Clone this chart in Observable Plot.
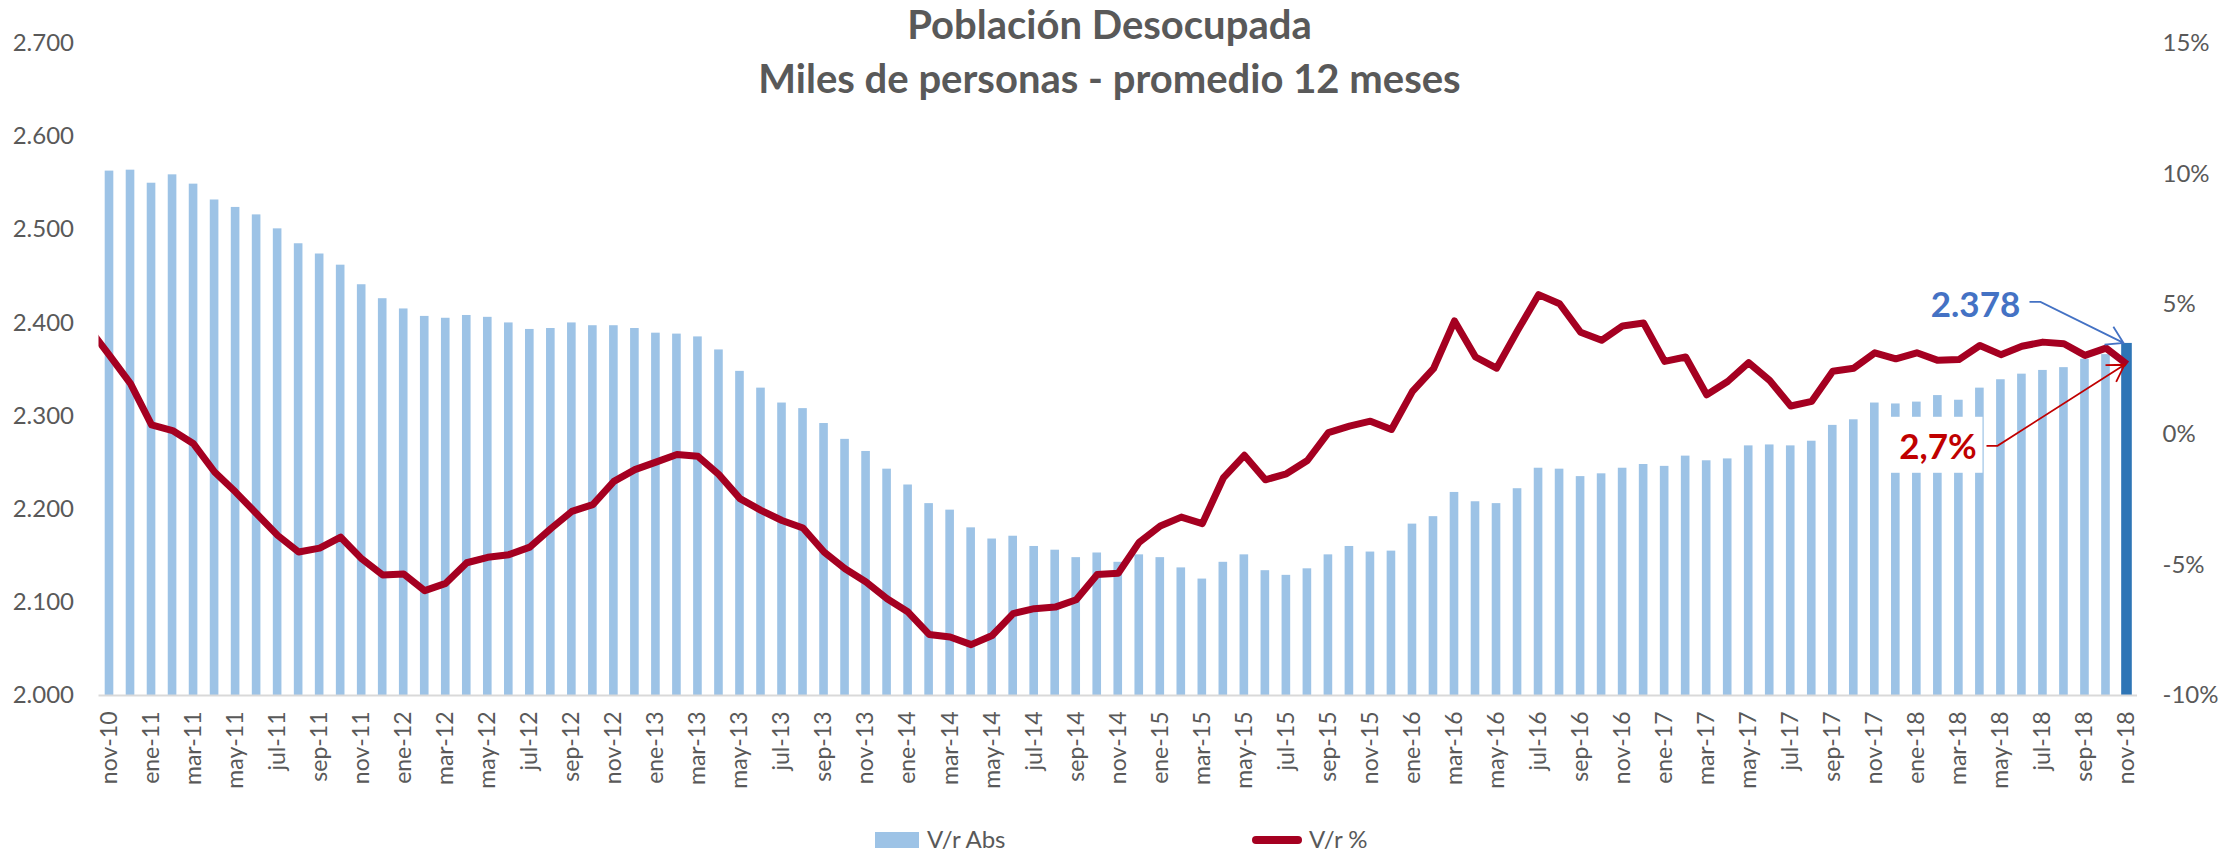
<!DOCTYPE html>
<html>
<head>
<meta charset="utf-8">
<script src="https://cdn.jsdelivr.net/npm/d3@7"></script>
<script src="https://cdn.jsdelivr.net/npm/@observablehq/plot@0.6"></script>
<style>
  body { margin: 0; background: #fff; }
  #wrap { position: relative; width: 2219px; height: 854px; background: #fff; font-family: Lato, "Open Sans", sans-serif; color: #595959; }
  #wrap svg { display: block; position: absolute; left: 0; top: 0; }
  .title { position: absolute; left: 0; width: 2219px; text-align: center; font-weight: 700; font-size: 40px; line-height: 54px; color: #595959; }
  .leg { position: absolute; font-size: 24px; line-height: 30px; color: #595959; }
</style>
</head>
<body>
<div id="wrap">
  <div class="title" style="top:-3px">Población Desocupada</div>
  <div class="title" style="top:51px">Miles de personas - promedio 12 meses</div>
</div>
<script>
// ---------- data ----------
const months = [
  "nov-10","dic-10",
  "ene-11","feb-11","mar-11","abr-11","may-11","jun-11","jul-11","ago-11","sep-11","oct-11","nov-11","dic-11",
  "ene-12","feb-12","mar-12","abr-12","may-12","jun-12","jul-12","ago-12","sep-12","oct-12","nov-12","dic-12",
  "ene-13","feb-13","mar-13","abr-13","may-13","jun-13","jul-13","ago-13","sep-13","oct-13","nov-13","dic-13",
  "ene-14","feb-14","mar-14","abr-14","may-14","jun-14","jul-14","ago-14","sep-14","oct-14","nov-14","dic-14",
  "ene-15","feb-15","mar-15","abr-15","may-15","jun-15","jul-15","ago-15","sep-15","oct-15","nov-15","dic-15",
  "ene-16","feb-16","mar-16","abr-16","may-16","jun-16","jul-16","ago-16","sep-16","oct-16","nov-16","dic-16",
  "ene-17","feb-17","mar-17","abr-17","may-17","jun-17","jul-17","ago-17","sep-17","oct-17","nov-17","dic-17",
  "ene-18","feb-18","mar-18","abr-18","may-18","jun-18","jul-18","ago-18","sep-18","oct-18","nov-18"
];
// V/r Abs: desocupados, miles de personas (promedio 12 meses)
const absValues = [
  2563,2564,2550,2559,2549,2532,2524,2516,2501,2485,2474,2462,2441,2426,2415,2407,2405,
  2408,2406,2400,2393,2394,2400,2397,2397,2394,2389,2388,2385,2371,2348,2330,2314,2308,2292,
  2275,2262,2243,2226,2206,2199,2180,2168,2171,2160,2156,2148,2153,2143,2151,2148,2137,
  2125,2143,2151,2134,2129,2136,2151,2160,2154,2155,2184,2192,2218,2208,2206,2222,2244,
  2243,2235,2238,2244,2248,2246,2257,2252,2254,2268,2269,2268,2273,2290,2296,2314,2313,
  2315,2322,2317,2330,2339,2345,2349,2352,2361,2366,2378
];
// V/r %: variación anual (%), same months
const pctValues = [
  3.04,1.96,0.38,0.16,-0.35,-1.43,-2.20,-3.03,-3.86,-4.50,-4.35,-3.93,-4.76,-5.38,-5.34,-5.98,-5.70,
  -4.91,-4.70,-4.60,-4.31,-3.60,-2.94,-2.68,-1.79,-1.34,-1.05,-0.76,-0.83,-1.53,-2.45,-2.90,-3.29,-3.58,-4.50,
  -5.14,-5.65,-6.29,-6.80,-7.66,-7.76,-8.05,-7.70,-6.86,-6.67,-6.61,-6.33,-5.36,-5.31,-4.12,-3.50,-3.16,
  -3.41,-1.66,-0.79,-1.73,-1.50,-0.99,0.08,0.33,0.52,0.20,1.66,2.53,4.36,2.98,2.55,3.99,5.37,
  5.02,3.93,3.62,4.17,4.28,2.81,2.98,1.53,2.04,2.76,2.08,1.10,1.28,2.43,2.55,3.14,2.91,
  3.14,2.85,2.88,3.42,3.07,3.39,3.55,3.49,3.04,3.32,2.70
];
// the line continues from the previous month (oct-10), clipped at the plot edge
const prevMonth = "oct-10";
const prevPct = 4.1;

const leftTicks = [2000, 2100, 2200, 2300, 2400, 2500, 2600, 2700];
const leftTickLabels = ["2.000","2.100","2.200","2.300","2.400","2.500","2.600","2.700"];
const pctTicks = [-10, -5, 0, 5, 10, 15];
const pctTickLabels = ["-10%","-5%","0%","5%","10%","15%"];
const seriesNames = ["V/r Abs", "V/r %"];

// ---------- helpers ----------
const leftDomain = [leftTicks[0], leftTicks[leftTicks.length - 1]];
const pctDomain = [pctTicks[0], pctTicks[pctTicks.length - 1]];
const toLeft = p => leftDomain[0] + (p - pctDomain[0]) * (leftDomain[1] - leftDomain[0]) / (pctDomain[1] - pctDomain[0]);
const esLocale = d3.formatLocale({decimal: ",", thousands: ".", grouping: [3], currency: ["", ""]});
const fmtAbs = esLocale.format(",.0f");
const fmtPct = esLocale.format(".1f");

const n = months.length;
const bars = months.map((m, i) => ({i, m, v: absValues[i]}));
const lineData = [{i: -1, m: prevMonth, p: prevPct}, ...months.map((m, i) => ({i, m, p: pctValues[i]}))];
const lastI = n - 1;

const W = 2219, H = 822;
const BLUE_LIGHT = "#9DC3E6", BLUE_DARK = "#2E75B6", RED = "#A50021";

const annotations = (index, scales) => {
  const x = scales.x, y = scales.y;
  const bx = x(lastI), by = y(absValues[lastI]);
  const ly = y(toLeft(pctValues[lastI]));
  const g = d3.create("svg:g");
  const arrowHead = (x0, y0, x1, y1, len, ang) => {
    const a = Math.atan2(y1 - y0, x1 - x0);
    const p1 = [x1 - len * Math.cos(a - ang), y1 - len * Math.sin(a - ang)];
    const p2 = [x1 - len * Math.cos(a + ang), y1 - len * Math.sin(a + ang)];
    return `M${p1[0]},${p1[1]}L${x1},${y1}L${p2[0]},${p2[1]}`;
  };
  // blue callout (last bar)
  {
    const tx = bx - 151, ty = by - 39;
    const sx = bx - 97, sy = by - 41, mx = bx - 86;
    const tipx = bx - 3, tipy = by;
    g.append("path").attr("d", `M${sx},${sy}H${mx}L${tipx},${tipy}` + arrowHead(mx, sy, tipx, tipy, 19, 0.55))
      .attr("fill", "none").attr("stroke", "#4472C4").attr("stroke-width", 1.8);
    g.append("text").attr("x", tx).attr("y", ty).attr("text-anchor", "middle").attr("dy", "0.36em")
      .attr("font-family", "Lato, sans-serif").attr("font-weight", 700).attr("font-size", 35)
      .attr("fill", "#4472C4").text(fmtAbs(absValues[lastI]));
  }
  // red callout (last line point)
  {
    const tx = bx - 188.5, ty = ly + 83;
    g.append("rect").attr("x", bx - 236).attr("y", ly + 53).attr("width", 92).attr("height", 56).attr("fill", "white");
    const sx = bx - 140, sy = ly + 82, mx = bx - 129;
    const tipx = bx - 2, tipy = ly + 1;
    g.append("path").attr("d", `M${sx},${sy}H${mx}L${tipx},${tipy}` + arrowHead(mx, sy, tipx, tipy, 19, 0.55))
      .attr("fill", "none").attr("stroke", "#C00000").attr("stroke-width", 1.8);
    g.append("text").attr("x", tx).attr("y", ty).attr("text-anchor", "middle").attr("dy", "0.36em")
      .attr("font-family", "Lato, sans-serif").attr("font-weight", 700).attr("font-size", 35)
      .attr("fill", "#C00000").text(fmtPct(pctValues[lastI]) + "%");
  }
  return g.node();
};

const chart = Plot.plot({
  width: W,
  height: H,
  marginLeft: 98.5,
  marginRight: 82,
  marginTop: 43,
  marginBottom: H - 695,
  x: {type: "linear", domain: [-0.5, n - 0.5]},
  y: {domain: leftDomain},
  style: {fontFamily: "Lato, sans-serif", fontSize: "24px", color: "#595959", background: "white", overflow: "visible"},
  marks: [
    Plot.rectY(bars.filter(d => d.i !== lastI), {x1: d => d.i - 0.5, x2: d => d.i + 0.5, y1: leftDomain[0], y2: "v", fill: BLUE_LIGHT, insetLeft: 6.2, insetRight: 6.2}),
    Plot.rectY(bars.filter(d => d.i === lastI), {x1: d => d.i - 0.5, x2: d => d.i + 0.5, y1: leftDomain[0], y2: "v", fill: BLUE_DARK, insetLeft: 5.2, insetRight: 5.2}),
    Plot.ruleY([leftDomain[0]], {stroke: "#D9D9D9", strokeWidth: 2}),
    Plot.line(lineData, {x: "i", y: d => toLeft(d.p), stroke: RED, strokeWidth: 7, strokeLinejoin: "round", strokeLinecap: "butt", clip: true}),
    Plot.axisX({ticks: bars.filter(d => d.i % 2 === 0).map(d => d.i), tickFormat: d => months[d], tickRotate: -90, tickSize: 0, tickPadding: 16, fontSize: 23, fill: "#595959", label: null}),
    Plot.axisY({anchor: "left", ticks: leftTicks, tickFormat: d => leftTickLabels[leftTicks.indexOf(d)], tickSize: 0, tickPadding: 25, fontSize: 24, fill: "#595959", label: null}),
    Plot.axisY({anchor: "right", ticks: pctTicks.map(toLeft), tickFormat: d => pctTickLabels[pctTicks.map(toLeft).indexOf(d)], tickSize: 0, tickPadding: 25, fontSize: 24, fill: "#595959", textAnchor: "start", label: null}),
    annotations
  ]
});

const wrap = document.getElementById("wrap");
wrap.insertBefore(chart, wrap.firstChild);

// legend
const leg = d3.select(wrap);
leg.append("div").style("position", "absolute").style("left", "875px").style("top", "832px")
  .style("width", "44px").style("height", "16px").style("background", BLUE_LIGHT);
leg.append("div").attr("class", "leg").style("left", "927px").style("top", "824px").text(seriesNames[0]);
leg.append("div").style("position", "absolute").style("left", "1252px").style("top", "836px")
  .style("width", "50px").style("height", "8px").style("background", RED).style("border-radius", "4px");
leg.append("div").attr("class", "leg").style("left", "1309px").style("top", "824px").text(seriesNames[1]);
</script>
</body>
</html>
